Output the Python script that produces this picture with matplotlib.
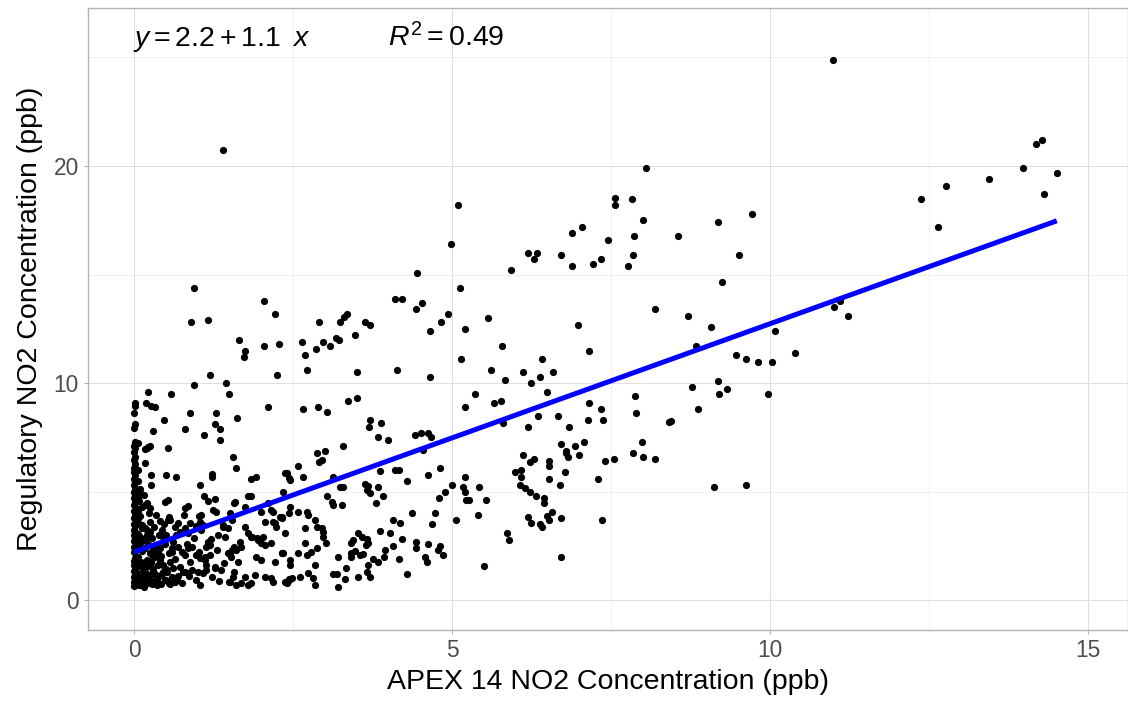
import numpy as np
import matplotlib
matplotlib.use("Agg")
import matplotlib.pyplot as plt
from matplotlib.ticker import MultipleLocator

plt.rcParams['font.family'] = ['Liberation Sans', 'DejaVu Sans']
plt.rcParams['mathtext.fontset'] = 'custom'
plt.rcParams['mathtext.rm'] = 'Liberation Sans'
plt.rcParams['mathtext.it'] = 'Liberation Sans:italic'

# --- data (APEX 14 vs regulatory NO2, ppb) ---

# points sitting on / next to zero APEX reading
zero_x = [0.0, 0.02, 0.0, 0.03, 0.0, 0.01, 0.04, 0.0, 0.02, 0.0, 0.05, 0.0, 0.01, 0.03, 0.0,
          0.02, 0.0, 0.04, 0.0, 0.01, 0.0, 0.03, 0.0, 0.02, 0.0, 0.04, 0.0, 0.01, 0.0, 0.03,
          0.0, 0.01, 0.0, 0.02, 0.0, 0.01, 0.0, 0.02, 0.0, 0.01, 0.0, 0.0, 0.02, 0.0, 0.01,
          0.0, 0.0, 0.01, 0.0, 0.0, 0.01, 0.01, 0.01, 0.02, 0.07, 0.02]
zero_y = [0.65, 0.75, 0.85, 0.95, 1.05, 1.15, 1.25, 1.35, 1.5, 1.6, 1.7, 1.8, 1.95, 2.05, 2.2,
          2.3, 2.45, 2.55, 2.7, 2.85, 3.0, 3.1, 3.25, 3.4, 3.5, 3.65, 3.8, 3.95, 4.1, 4.25,
          4.4, 4.55, 4.7, 4.85, 5.0, 5.15, 5.3, 5.45, 5.6, 5.75, 5.9, 6.1, 6.25, 6.45, 6.6,
          6.8, 7.1, 7.25, 7.95, 8.6, 8.95, 9.06, 8.1, 7.3, 7.22, 6.99]

# dense low cluster, APEX 0 - 2.5 ppb
low_x = [0.08, 0.12, 0.06, 0.1, 0.14, 0.07, 0.11, 0.06, 0.13, 0.08, 0.1, 0.15, 0.06, 0.12,
         0.07, 0.1, 0.06, 0.13, 0.08, 0.1, 0.06, 0.12, 0.2, 0.25, 0.18, 0.28, 0.22, 0.3, 0.2,
         0.27, 0.18, 0.3, 0.22, 0.28, 0.2, 0.32, 0.25, 0.35, 0.4, 0.45, 0.38, 0.5, 0.43, 0.55,
         0.48, 0.6, 0.65, 0.7, 0.6, 0.55, 0.42, 0.28, 0.15,
         0.95, 1.45, 0.22, 0.58, 1.50, 0.19, 0.27, 0.33, 2.11, 0.88, 1.29, 1.62, 0.47,
         0.81, 1.28, 1.35, 0.30, 1.10, 1.35, 0.22, 0.18, 0.53, 1.56, 1.61, 0.17, 0.27,
         0.50, 0.66, 1.23, 1.23, 1.84, 1.92, 2.37, 0.27, 1.04, 1.10, 1.79, 1.84, 0.53, 0.49,
         1.27, 1.58, 1.74, 2.11, 0.21, 0.25, 0.81, 0.85, 1.24, 1.29, 2.0, 2.15, 2.19, 1.03,
         2.32, 0.53, 0.69, 0.64, 0.88, 0.98, 2.21, 2.24, 1.40, 0.21, 1.06, 1.32, 1.43, 1.84,
         1.95, 0.40, 1.66, 1.58, 2.0, 2.16, 1.16, 1.14, 0.85, 2.32, 0.80, 0.98, 1.11, 1.48,
         1.53, 1.92, 2.0, 1.64, 2.21, 1.27, 1.37, 0.80, 0.85, 1.01, 0.98, 1.14, 1.22, 1.58,
         1.56, 1.74, 1.90, 2.06, 2.16, 2.19, 0.48, 1.50, 1.69, 1.79, 1.84,
         0.2, 0.25, 0.07, 0.09, 0.07, 0.17, 1.17, 1.06, 0.41, 0.57, 0.17, 0.25, 0.09, 0.44,
         0.46, 0.80, 0.85, 1.04, 1.09, 1.17, 1.19, 1.30, 0.62, 0.70, 0.75, 0.91, 1.04, 0.25,
         0.30, 0.41, 0.46, 0.57, 0.62, 0.72, 0.77, 0.88, 0.91, 1.12, 1.14, 1.19, 1.27, 0.17,
         0.22, 0.09, 0.12, 0.33, 0.36, 0.51, 0.57, 0.67, 0.75, 1.04, 1.09, 0.36, 0.41, 0.51,
         1.59, 1.51, 1.54, 2.06, 2.19, 2.32, 1.40, 1.48, 1.75, 1.80, 1.85, 1.93, 2.03, 2.06,
         1.54, 1.61, 1.51, 2.32, 1.51, 1.61, 2.37, 2.43,
         0.14, 0.33, 0.52, 0.68, 0.86, 0.19, 0.38, 0.59, 0.94, 1.21, 0.12, 0.31, 0.47, 0.73,
         1.02, 0.24, 0.44, 0.66, 0.83, 1.34, 0.16, 0.36, 0.55, 0.79, 1.42, 0.29, 0.64, 1.68]
low_y = [0.7, 0.85, 1.0, 1.15, 1.4, 1.55, 1.75, 2.0, 2.25, 2.4, 2.65, 2.8, 3.05, 3.45,
         3.6, 3.85, 4.1, 4.3, 4.55, 5.1, 5.5, 0.95, 0.8, 0.95, 1.2, 1.25, 1.55, 1.45, 1.85,
         1.7, 2.4, 2.3, 2.6, 2.85, 3.0, 3.35, 3.6, 3.9, 1.1, 1.3, 1.6, 1.45, 2.05, 2.15,
         2.6, 2.2, 1.9, 1.1, 1.05, 0.8, 0.75, 0.72, 0.62,
         9.91, 9.99, 9.6, 9.49, 9.49, 9.06, 8.94, 8.88, 8.91, 8.6, 8.6, 8.37, 8.29,
         7.88, 8.1, 7.88, 7.79, 7.6, 7.37, 7.06, 6.96, 6.99, 6.58, 6.07, 6.3, 5.77,
         5.77, 5.68, 5.79, 5.67, 5.58, 5.68, 5.84, 5.29, 5.29, 4.79, 4.79, 4.79, 4.61, 4.5,
         4.64, 4.48, 4.3, 4.48, 4.46, 4.23, 4.23, 4.33, 4.15, 4.07, 4.07, 4.15, 4.07, 3.87,
         3.84, 3.69, 3.53, 3.38, 3.56, 3.41, 3.56, 3.38, 3.38, 3.23, 3.23, 3.0, 2.92, 2.92,
         2.76, 3.0, 2.69, 2.46, 2.64, 2.64, 2.64, 2.46, 2.38, 2.18, 2.07, 2.07, 2.0, 2.15,
         2.0, 2.0, 1.84, 1.76, 1.76, 1.53, 1.38, 1.3, 1.23, 1.3, 0.92, 1.38, 1.07, 1.3,
         1.07, 1.07, 1.15, 1.07, 1.0, 0.84, 0.92, 0.84, 0.77, 0.69, 0.77,
         6.99, 7.1, 5.99, 4.92, 4.69, 4.38, 4.56, 3.92, 3.64, 3.69, 3.30, 3.15, 2.92, 3.23,
         2.92, 3.30, 3.07, 3.61, 3.46, 2.69, 2.53, 2.30, 2.69, 2.46, 2.23, 2.46, 1.92, 2.15,
         1.92, 1.84, 1.61, 1.76, 1.46, 1.53, 1.30, 1.76, 1.38, 1.84, 1.61, 2.07, 1.46, 1.30,
         1.07, 0.92, 0.69, 0.77, 0.69, 0.92, 0.72, 0.92, 0.77, 0.69, 1.23, 2.53, 2.38, 3.0,
         4.53, 4.0, 3.69, 3.61, 3.61, 3.76, 3.46, 3.30, 3.38, 3.07, 2.92, 2.84, 2.92, 2.53,
         2.30, 2.30, 2.15, 2.15, 0.82, 0.69, 0.84, 0.92,
         1.62, 1.18, 1.28, 1.02, 1.12, 2.72, 2.18, 2.42, 2.88, 2.82, 3.32, 1.98, 3.52, 3.12,
         2.22, 4.02, 1.22, 2.98, 2.58, 0.88, 4.82, 0.95, 3.82, 3.92, 1.72, 0.85, 0.82, 2.45]

# middle band, APEX 2.3 - 5.5 ppb
mid_x = [5.36, 5.20, 3.50, 3.37, 2.66, 2.89, 3.04, 3.71, 3.69, 3.88, 3.84, 4.0, 4.42, 4.52,
         4.63, 4.67, 4.54, 3.28, 2.88, 3.0, 2.95, 2.91, 2.40, 2.43, 2.45, 2.58, 2.66, 3.13,
         3.24, 3.29, 3.63, 3.68, 3.66, 3.71, 3.83, 3.87, 4.10, 4.17, 4.30, 4.63, 4.81, 5.0,
         5.20, 5.18, 5.20, 5.22, 5.26, 5.42, 5.41, 4.89, 4.80, 4.73, 4.68, 5.06, 2.35, 3.03,
         3.11, 3.13, 3.27, 3.80, 3.92, 4.37, 4.08, 4.18, 3.87, 4.03, 4.21, 4.43, 4.44, 4.63,
         4.81, 4.78, 4.86, 4.58, 4.60, 4.16, 4.30, 2.30, 2.37, 2.35, 2.43, 2.45, 2.58, 2.72,
         2.74, 2.69, 2.85, 2.87, 2.95, 2.98, 2.98, 3.02, 2.69, 2.58, 2.72, 2.79, 2.87, 2.45,
         2.45, 2.85, 2.43, 2.48, 2.40, 2.61, 2.74, 2.82, 2.85, 3.21, 3.13, 3.20, 3.21, 3.33,
         3.32, 3.42, 3.45, 3.53, 3.58, 3.42, 3.47, 3.42, 3.60, 3.55, 3.66, 3.68, 3.65, 3.76,
         3.83, 3.68, 3.66, 3.71, 3.53, 3.95, 3.93, 4.07]
mid_y = [9.49, 8.91, 9.29, 9.18, 8.79, 8.91, 8.68, 8.29, 7.99, 8.17, 7.5, 7.37, 7.6, 7.71,
         7.71, 7.5, 6.91, 7.1, 6.79, 6.88, 6.45, 6.37, 5.87, 5.61, 5.53, 6.18, 5.68, 5.68,
         5.19, 5.19, 5.35, 5.25, 5.07, 4.92, 5.19, 5.96, 5.99, 5.99, 5.5, 5.77, 6.08, 5.29,
         5.68, 5.22, 4.99, 4.61, 4.61, 5.19, 3.9, 4.99, 4.69, 4.0, 3.5, 3.69, 4.99, 4.79,
         4.53, 4.38, 4.38, 4.48, 4.79, 4.0, 3.69, 3.56, 3.19, 3.07, 2.80, 2.69, 2.38, 2.58,
         2.49, 2.3, 2.07, 2.0, 1.76, 1.88, 1.2, 3.84, 3.07, 2.18, 4.02, 4.3, 4.07, 4.07,
         3.92, 3.30, 3.69, 3.38, 3.30, 3.15, 2.92, 2.61, 2.61, 2.18, 2.07, 2.23, 2.38, 1.84,
         1.61, 1.61, 0.95, 1.0, 0.80, 1.07, 1.23, 1.0, 0.69, 2.0, 1.20, 1.20, 0.58, 1.46,
         0.95, 2.61, 2.76, 3.07, 2.92, 2.15, 2.27, 2.0, 2.12, 2.07, 2.80, 2.61, 2.53, 1.89,
         1.76, 1.61, 1.30, 1.07, 1.07, 2.3, 2.0, 2.49]

# APEX 5.5 - 8.5 ppb, lower half
right_x = [5.83, 6.24, 5.66, 5.77, 6.49, 5.81, 6.19, 6.36, 6.67, 6.84, 7.16, 7.34, 7.37, 7.14,
           7.88, 7.89, 8.42, 6.71, 6.80, 6.83, 6.80, 6.93, 6.99, 7.08, 6.11, 6.23, 6.29, 6.53,
           6.52, 5.99, 6.08, 6.08, 6.53, 6.78, 6.70, 6.07, 6.15, 6.22, 6.32, 6.44, 6.44, 7.30,
           7.41, 7.55, 7.85, 7.99, 8.01, 8.19, 5.53, 6.20, 6.24, 6.38, 6.41, 6.50, 6.57, 6.53,
           6.72, 7.36, 5.86, 5.90, 5.50, 6.72]
right_y = [10.14, 9.99, 9.09, 9.18, 9.59, 8.17, 7.99, 8.49, 8.49, 7.99, 9.09, 8.79, 8.29, 8.29,
           9.40, 8.60, 8.22, 7.19, 6.88, 6.60, 6.76, 7.10, 6.68, 7.29, 6.68, 6.37, 6.48, 6.41,
           6.18, 5.90, 5.99, 5.68, 5.59, 5.90, 5.29, 5.30, 5.15, 4.99, 4.79, 4.69, 4.48, 5.59,
           6.41, 6.50, 6.79, 7.29, 6.60, 6.50, 4.61, 3.81, 3.56, 3.50, 3.38, 3.87, 4.07, 3.69,
           3.79, 3.69, 3.07, 2.76, 1.58, 1.98]

# upper scatter and the high APEX readings
high_x = [9.25, 8.71, 9.08, 8.84, 10.08, 11.01, 11.10, 11.22, 9.46, 9.63, 9.81, 10.03, 10.40,
          9.18, 8.77, 9.20, 9.33, 9.97, 8.87, 8.45, 9.12, 9.62, 10.99, 14.28, 14.19, 13.98,
          14.51, 14.31, 13.44, 12.77, 12.38, 12.64,
          1.40, 0.94, 0.90, 1.17, 2.05, 2.21, 1.65, 1.75, 1.73, 2.04, 2.28, 1.19, 2.25, 2.64,
          2.69, 2.72, 2.86, 2.91, 2.97, 3.09, 3.18, 3.23, 3.24, 3.30, 3.35, 3.48, 3.51, 3.64,
          3.71, 4.10, 4.21, 4.45, 4.43, 4.53, 4.65, 4.13, 4.66,
          8.05, 5.10, 4.98, 7.57, 7.57, 7.83, 8.0, 9.71, 9.18, 6.89, 7.04, 7.46, 7.87, 8.55,
          6.19, 6.33, 6.29, 6.71, 6.89, 7.22, 7.34, 7.77, 7.84, 5.93, 9.52, 5.13, 4.93, 4.82,
          5.20, 5.56, 6.98, 8.19, 5.78, 5.14, 6.41, 7.16, 5.62, 6.12, 6.39, 6.59]
high_y = [14.67, 13.09, 12.59, 11.71, 12.40, 13.52, 13.79, 13.09, 11.29, 11.09, 10.98, 10.98,
          11.40, 10.09, 9.80, 9.49, 9.71, 9.49, 8.79, 8.26, 5.19, 5.29, 24.90, 21.20, 21.0,
          19.89, 19.69, 18.70, 19.40, 19.09, 18.49, 17.19,
          20.74, 14.39, 12.80, 12.89, 13.79, 13.19, 12.0, 11.49, 11.18, 11.69, 11.80, 10.38,
          10.38, 11.89, 11.29, 10.58, 11.58, 12.80, 11.89, 11.69, 12.09, 12.0, 12.80, 13.03,
          13.19, 12.20, 10.49, 12.80, 12.69, 13.89, 13.89, 15.08, 13.40, 13.69, 12.40, 10.58,
          10.29,
          19.89, 18.20, 16.39, 18.51, 18.20, 18.49, 17.50, 17.81, 17.41, 16.90, 17.19, 16.59,
          16.79, 16.79, 16.01, 16.01, 15.70, 15.90, 15.39, 15.48, 15.70, 15.39, 15.90, 15.21,
          15.90, 14.39, 13.19, 12.80, 12.49, 13.0, 12.69, 13.40, 11.69, 11.09, 11.09, 11.49,
          10.58, 10.49, 10.29, 10.49]

# fitted line as printed on the chart
fit_intercept = 2.21
fit_slope = 1.052
eq_label = r'$y = 2.2 + 1.1\;\;x$'
r2_label = r'$R^2 = 0.49$'

x = np.concatenate([zero_x, low_x, mid_x, right_x, high_x])
y = np.concatenate([zero_y, low_y, mid_y, right_y, high_y])

# plot
fig = plt.figure(figsize=(11.28, 7.05), dpi=100)
ax = fig.add_axes([88 / 1128, 75 / 705, 1040 / 1128, 622 / 705])

ax.scatter(x, y, s=27, c='black', linewidths=0, zorder=3)

xf = np.array([x.min(), x.max()])
ax.plot(xf, fit_intercept + fit_slope * xf, color='#0000FF', lw=3.6, zorder=4,
        solid_capstyle='butt')

ax.text(0.0435, 0.939, eq_label, transform=ax.transAxes, fontsize=20.5, va='baseline')
ax.text(0.2885, 0.939, r2_label, transform=ax.transAxes, fontsize=20.5, va='baseline')

ax.set_xlim(-0.723, 15.63)
ax.set_ylim(-1.38, 27.28)
ax.xaxis.set_major_locator(MultipleLocator(5))
ax.xaxis.set_minor_locator(MultipleLocator(2.5))
ax.yaxis.set_major_locator(MultipleLocator(10))
ax.yaxis.set_minor_locator(MultipleLocator(5))

ax.grid(which='major', color='#DEDEDE', lw=0.75, zorder=0)
ax.grid(which='minor', color='#E8E8E8', lw=0.45, zorder=0)
ax.set_axisbelow(True)
for s in ax.spines.values():
    s.set_color('#B3B3B3')
    s.set_linewidth(1.0)

ax.tick_params(which='major', length=3, width=0.75, color='#B3B3B3',
               labelsize=16.4, labelcolor='#4D4D4D', pad=3.5)
ax.tick_params(which='minor', length=0)

ax.set_xlabel("APEX 14 NO2 Concentration (ppb)", fontsize=20.5, labelpad=5)
ax.set_ylabel("Regulatory NO2 Concentration (ppb)", fontsize=20.5, labelpad=8)

fig.savefig("out.png", dpi=100)
